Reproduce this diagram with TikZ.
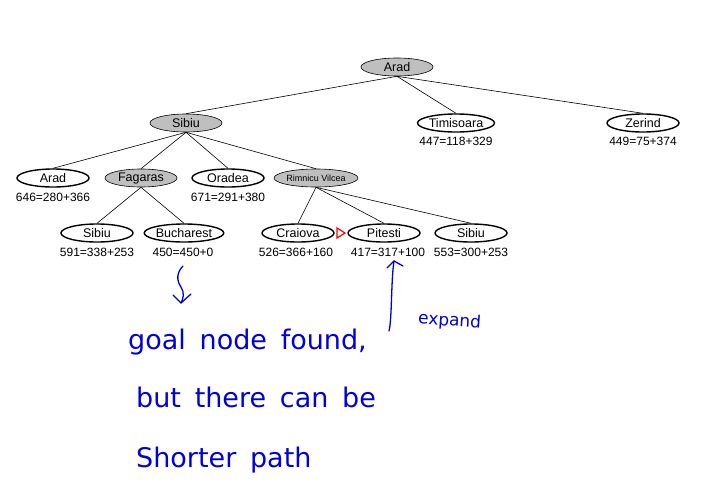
\documentclass[tikz,border=0pt]{standalone}
\usepackage{fontspec}
\setmainfont{Liberation Sans}
\newfontfamily\handfont{DejaVu Sans}[WordSpace=1.6]
\usetikzlibrary{shapes.geometric}
\begin{document}
\begin{tikzpicture}[x=1pt,y=-1pt,
  base/.style={ellipse,minimum width=72pt,minimum height=18pt,inner sep=0pt,font=\fontsize{12.5}{13}\selectfont},
  open/.style={base,draw,line width=1.4pt,fill=white},
  done/.style={base,draw,line width=0.6pt,fill=black!25},
  lbl/.style={font=\fontsize{12}{13}\selectfont,inner sep=0pt},
  edge/.style={line width=0.6pt},
  hand/.style={text=blue!85!black,font=\handfont\fontsize{27}{30}\selectfont,inner sep=0pt,anchor=west},
  handline/.style={draw=blue!85!black,line width=1.3pt,line cap=round,line join=round}]
\useasboundingbox (0,0) rectangle (703,482);
% nodes
\node[done] (arad) at (397,67) {Arad};
\node[done] (sib) at (186,123) {Sibiu};
\node[open] (tim) at (456,123) {Timisoara};
\node[open] (zer) at (643,123) {Zerind};
\node[open] (arad2) at (53,178) {Arad};
\node[done] (fag) at (141,178) {Fagaras};
\node[open] (ora) at (228,178) {Oradea};
\node[done,font=\fontsize{9}{10}\selectfont] (rv) at (316,178) {Rimnicu Vilcea};
\node[open] (sib2) at (97,233) {Sibiu};
\node[open] (buc) at (184,233) {Bucharest};
\node[open] (cra) at (298,233) {Craiova};
\node[open] (pit) at (384,233) {Pitesti};
\node[open] (sib3) at (471,233) {Sibiu};
% labels
\node[lbl] (ltim) at (456,141) {447=118+329};
\node[lbl] (lzer) at (643,141) {449=75+374};
\node[lbl] (larad2) at (53,197) {646=280+366};
\node[lbl] (lora) at (228,197) {671=291+380};
\node[lbl] (lsib2) at (97,252) {591=338+253};
\node[lbl] (lbuc) at (183,252) {450=450+0};
\node[lbl] (lcra) at (296,252) {526=366+160};
\node[lbl] (lpit) at (388,252) {417=317+100};
\node[lbl] (lsib3) at (471,252) {553=300+253};
% edges
\foreach \c in {sib,tim,zer} \draw[edge] (arad.south) -- (\c.north);
\foreach \c in {arad2,fag,ora,rv} \draw[edge] (sib.south) -- (\c.north);
\foreach \c in {sib2,buc} \draw[edge] (fag.south) -- (\c.north);
\foreach \c in {cra,pit,sib3} \draw[edge] (rv.south) -- (\c.north);
% red marker
\coordinate (mk) at (341,233);
\draw[red,line width=1.2pt,line join=miter] ([shift={(-4,-5)}]mk) -- ([shift={(4,0)}]mk) -- ([shift={(-4,5)}]mk) -- cycle;
% handwritten annotations
\coordinate (a1s) at (183,266);
\coordinate (a1e) at (181,303);
\draw[handline] (a1s) .. controls (177,272) and (176,280) .. (181,287) .. controls (185,293) and (183,299) .. (a1e);
\draw[handline] (173,295) -- (a1e) -- (191,294);
\node[hand] (t1) at (128,342) {goal node found,};
\node[hand] (t2) at (136,397) {but there can be};
\node[hand] (t3) at (136,460) {Shorter path};
\coordinate (a2s) at (389,331);
\coordinate (a2e) at (394,261);
\draw[handline] (a2s) .. controls (392,320) and (391,280) .. (a2e);
\draw[handline] (387,268) -- (a2e) -- (403,266);
\node[hand,font=\handfont\fontsize{17}{20}\selectfont,rotate=-4] (t4) at (418,319) {expand};
\end{tikzpicture}
\end{document}
